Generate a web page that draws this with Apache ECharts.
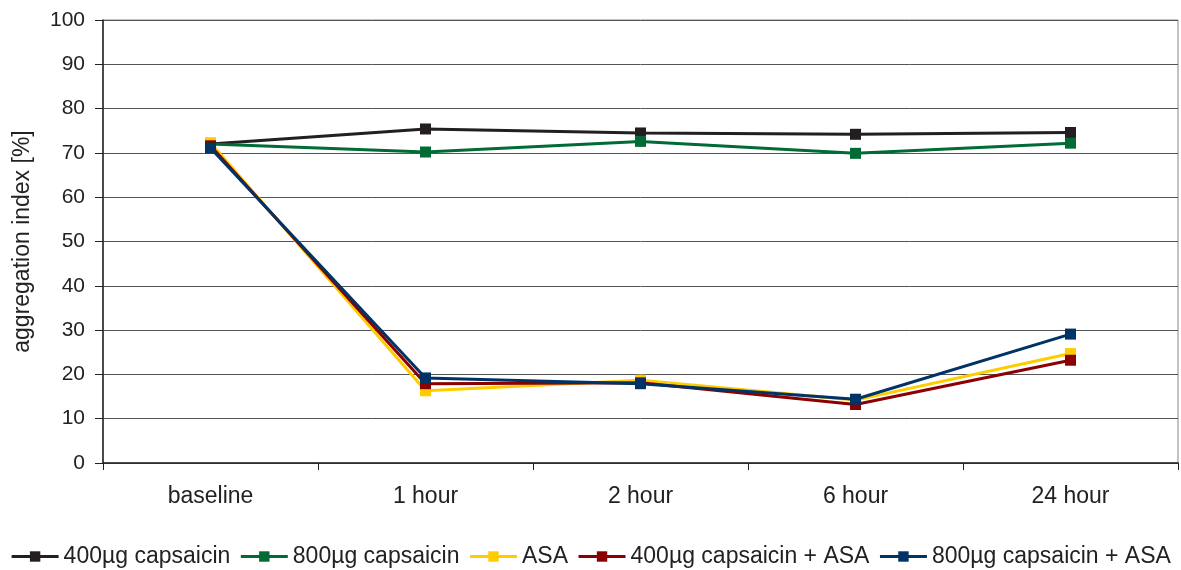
<!DOCTYPE html>
<html>
<head>
<meta charset="utf-8">
<script src="https://cdn.jsdelivr.net/npm/echarts@6/dist/echarts.min.js"></script>
<style>html,body{margin:0;padding:0;background:#fff}#c{width:1181px;height:570px}</style>
</head>
<body>
<div id="c"></div>
<script>
const categories = ['baseline', '1 hour', '2 hour', '6 hour', '24 hour'];
const yTicks = [0, 10, 20, 30, 40, 50, 60, 70, 80, 90, 100];
const cap400 = [72.0, 75.4, 74.5, 74.2, 74.6];
const cap800 = [72.0, 70.2, 72.6, 69.9, 72.2];
const asa = [72.3, 16.3, 18.7, 14.2, 24.7];
const cap400asa = [71.6, 17.9, 18.1, 13.2, 23.2];
const cap800asa = [71.1, 19.2, 17.9, 14.4, 29.1];
const seriesNames = ['400µg capsaicin', '800µg capsaicin', 'ASA', '400µg capsaicin + ASA', '800µg capsaicin + ASA'];
const seriesData = [cap400, cap800, asa, cap400asa, cap800asa];
const colors = ['#231f20', '#006b35', '#ffcc00', '#8b0000', '#003366'];

const chart = echarts.init(document.getElementById('c'));
const font = 'Liberation Sans, Arial, sans-serif';
chart.setOption({
  animation: false,
  grid: { left: 103, right: 3, top: 20, bottom: 107, show: true, borderColor: '#888', borderWidth: 1, backgroundColor: 'transparent' },
  legend: {
    top: 545, left: 'center', padding: 0, itemWidth: 47, itemHeight: 13, itemGap: 9,
    lineStyle: { width: 3 },
    textStyle: { fontFamily: font, fontSize: 23, color: '#222' },
    data: seriesNames
  },
  xAxis: {
    type: 'category', data: categories, boundaryGap: true,
    axisLine: { lineStyle: { color: '#222', width: 1.5 } },
    axisTick: { show: true, length: 7, lineStyle: { color: '#222' } },
    axisLabel: { fontFamily: font, fontSize: 23, color: '#222', margin: 22 },
    splitLine: { show: false }
  },
  yAxis: {
    type: 'value', min: 0, max: 100, interval: 10,
    name: 'aggregation index [%]', nameLocation: 'middle', nameGap: 69, nameRotate: 90,
    nameTextStyle: { fontFamily: font, fontSize: 23, color: '#222' },
    axisLine: { show: true, lineStyle: { color: '#222', width: 1.5 } },
    axisTick: { show: true, length: 8, inside: false, lineStyle: { color: '#222' } },
    axisLabel: { fontFamily: font, fontSize: 21, color: '#222', margin: 18,
      formatter: v => yTicks.includes(v) ? String(v) : '' },
    splitLine: { show: true, lineStyle: { color: '#555', width: 1 } }
  },
  series: seriesData.map((d, i) => ({
    name: seriesNames[i], type: 'line', data: d,
    symbol: 'rect', symbolSize: 11, showSymbol: true,
    lineStyle: { color: colors[i], width: 3 },
    itemStyle: { color: colors[i] },
    z: 2 + i
  }))
});
</script>
</body>
</html>
